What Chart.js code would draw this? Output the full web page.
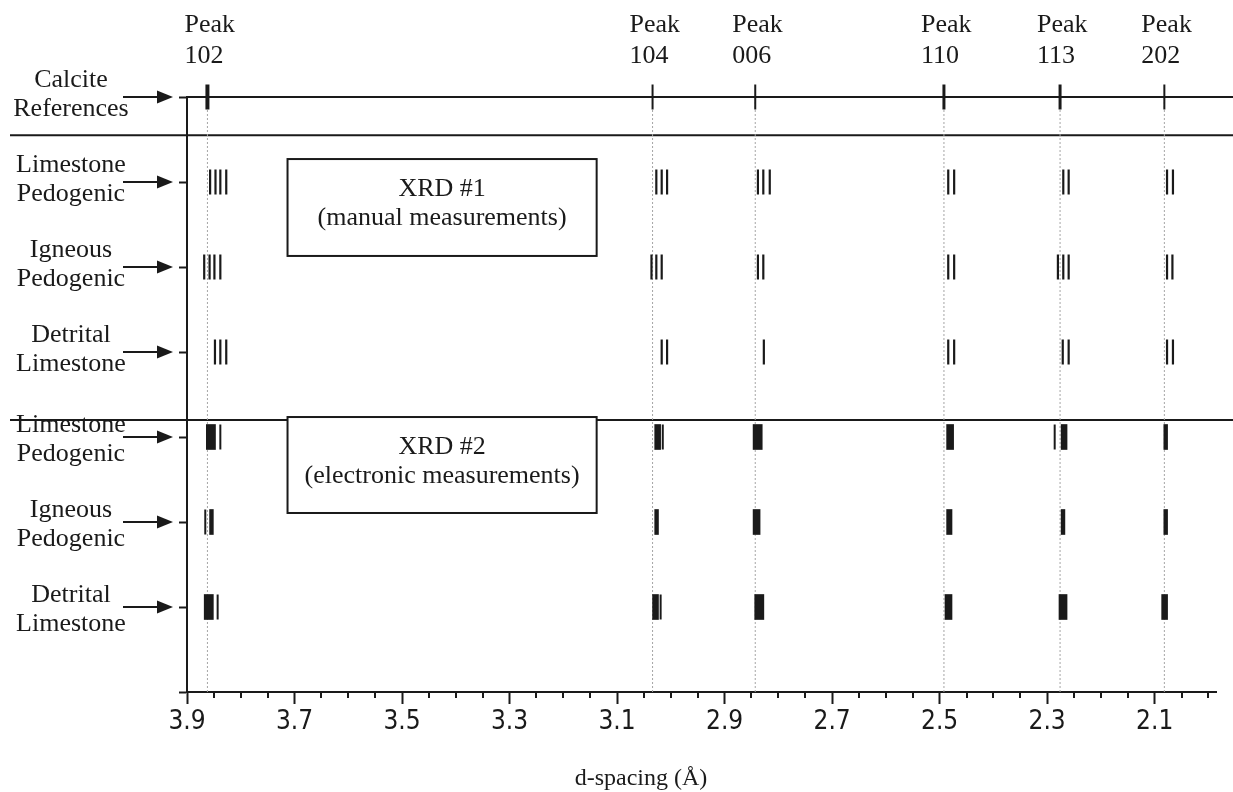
<!DOCTYPE html>
<html>
<head>
<meta charset="utf-8">
<script src="https://cdn.jsdelivr.net/npm/chart.js@4.4.1/dist/chart.umd.min.js"></script>
<style>
  html, body { margin: 0; padding: 0; background: #fff; }
  #wrap { width: 1233px; height: 792px; }
</style>
</head>
<body>
<div id="wrap"><canvas id="myChart" width="1233" height="792"></canvas></div>
<script>
// calcite reference peaks, d-spacing in angstrom
let peakNames = ['102', '104', '006', '110', '113', '202'];
let calcite = [3.862, 3.034, 2.843, 2.492, 2.276, 2.082];

let rowLabels = [
    ['Calcite', 'References'],
    ['Limestone', 'Pedogenic'],
    ['Igneous', 'Pedogenic'],
    ['Detrital', 'Limestone'],
    ['Limestone', 'Pedogenic'],
    ['Igneous', 'Pedogenic'],
    ['Detrital', 'Limestone']
];

// XRD #1 (manual) - one value per measured line
let xrd1Limestone = [3.857, 3.847, 3.838, 3.827, 3.027, 3.017, 3.007, 2.838, 2.828, 2.816, 2.484, 2.473, 2.270, 2.260, 2.077, 2.066];
let xrd1Igneous = [3.868, 3.858, 3.849, 3.838, 3.036, 3.027, 3.017, 2.838, 2.828, 2.484, 2.473, 2.280, 2.270, 2.260, 2.077, 2.067];
let xrd1Detrital = [3.848, 3.838, 3.827, 3.017, 3.007, 2.827, 2.484, 2.473, 2.271, 2.260, 2.077, 2.066];

// XRD #2 (electronic) - bands [from, to] plus single lines
let xrd2LimestoneBands = [[3.864, 3.847], [3.030, 3.019], [2.847, 2.830], [2.487, 2.474], [2.274, 2.263], [2.083, 2.076]];
let xrd2LimestoneLines = [3.838, 3.015, 2.286];
let xrd2IgneousBands = [[3.858, 3.851], [3.030, 3.023], [2.847, 2.834], [2.487, 2.477], [2.274, 2.267], [2.083, 2.076]];
let xrd2IgneousLines = [3.866];
let xrd2DetritalBands = [[3.868, 3.851], [3.034, 3.023], [2.844, 2.827], [2.490, 2.477], [2.278, 2.263], [2.087, 2.076]];
let xrd2DetritalLines = [3.843, 3.019];

let xTicks = [3.9, 3.7, 3.5, 3.3, 3.1, 2.9, 2.7, 2.5, 2.3, 2.1];

const ink = '#1a1a1a';
const serif = "'Liberation Serif', 'Times New Roman', serif";
const narrow = "'Liberation Sans Narrow', 'DejaVu Sans Condensed', 'Arial Narrow', sans-serif";

function lineMarks(values, row, width) {
    return {
        type: 'scatter',
        data: values.map(v => ({x: v, y: row})),
        pointStyle: 'line',
        pointRotation: 90,
        pointRadius: 12.5,
        pointHoverRadius: 12.5,
        pointBorderWidth: width,
        pointBorderColor: ink,
        pointBackgroundColor: ink,
        clip: false,
        order: 1
    };
}

let bands = [];
[[xrd2LimestoneBands, 3], [xrd2IgneousBands, 2], [xrd2DetritalBands, 1]].forEach(([list, row]) => {
    list.forEach(r => bands.push({x: r, y: row}));
});

// dotted guide lines under each calcite peak
let guides = calcite.map(d => ({
    type: 'line',
    data: [{x: d, y: 0}, {x: d, y: 7}],
    borderColor: '#a5a5a5',
    borderWidth: 1,
    borderDash: [2, 2],
    pointRadius: 0,
    clip: false,
    order: 5
}));

let refMarks = lineMarks(calcite, 7, [4, 2, 2, 3, 3, 2]);

let decorations = {
    id: 'decorations',
    beforeDraw(chart) {
        const ctx = chart.ctx;
        ctx.save();
        ctx.fillStyle = '#fff';
        ctx.fillRect(0, 0, chart.width, chart.height);
        ctx.restore();
    },
    beforeDatasetsDraw(chart) {
        const {ctx, chartArea: a, scales: {x, y}} = chart;
        ctx.save();
        ctx.strokeStyle = ink;
        ctx.lineWidth = 2;
        let hline = (py, x0) => {
            ctx.beginPath();
            ctx.moveTo(x0, py);
            ctx.lineTo(chart.width, py);
            ctx.stroke();
        };
        hline(y.getPixelForValue(7), a.left);
        hline(y.getPixelForValue(6.55), 10);
        hline(y.getPixelForValue(3.2), 10);

        // minor ticks every 0.05
        for (let k = 40; k <= 78; k++) {
            let v = k * 0.05;
            if (xTicks.some(t => Math.abs(t - v) < 1e-6)) continue;
            let px = Math.round(x.getPixelForValue(v));
            ctx.beginPath();
            ctx.moveTo(px, a.bottom);
            ctx.lineTo(px, a.bottom + 6);
            ctx.stroke();
        }
        ctx.restore();
    },
    afterDraw(chart) {
        const {ctx, chartArea: a, scales: {x, y}} = chart;
        ctx.save();
        ctx.fillStyle = ink;
        ctx.strokeStyle = ink;
        ctx.font = '26px ' + serif;

        // peak names
        ctx.textAlign = 'left';
        ctx.textBaseline = 'alphabetic';
        calcite.forEach((d, i) => {
            let px = x.getPixelForValue(d) - 23;
            ctx.fillText('Peak', px, a.top - 65);
            ctx.fillText(peakNames[i], px, a.top - 34);
        });

        // row labels with arrows
        rowLabels.forEach((lines, i) => {
            let py = y.getPixelForValue(7 - i);
            let shift = i >= 4 ? 5 : 0;
            ctx.textAlign = 'center';
            ctx.fillText(lines[0], 71, py - 10 + shift);
            ctx.fillText(lines[1], 71, py + 19 + shift);
            ctx.lineWidth = 2;
            ctx.beginPath();
            ctx.moveTo(123, py);
            ctx.lineTo(160, py);
            ctx.stroke();
            ctx.beginPath();
            ctx.moveTo(173, py);
            ctx.lineTo(157, py - 6.5);
            ctx.lineTo(157, py + 6.5);
            ctx.closePath();
            ctx.fill();
        });

        // method boxes
        let box = (top, bottom, l1, l2) => {
            let x0 = x.getPixelForValue(3.713), x1 = x.getPixelForValue(3.138);
            let y0 = y.getPixelForValue(top), y1 = y.getPixelForValue(bottom);
            ctx.lineWidth = 2;
            ctx.fillStyle = '#fff';
            ctx.fillRect(x0, y0, x1 - x0, y1 - y0);
            ctx.strokeRect(x0, y0, x1 - x0, y1 - y0);
            ctx.fillStyle = ink;
            ctx.textAlign = 'center';
            let cx = (x0 + x1) / 2;
            ctx.fillText(l1, cx, y0 + 37);
            ctx.fillText(l2, cx, y0 + 66);
        };
        box(6.27, 5.13, 'XRD #1', '(manual measurements)');
        box(3.235, 2.106, 'XRD #2', '(electronic measurements)');

        // axis title
        ctx.font = '24px ' + serif;
        ctx.textAlign = 'center';
        ctx.fillText('d-spacing (\u00C5)', 641, 785);
        ctx.restore();
    }
};

let context = document.getElementById('myChart').getContext('2d');
let chart = new Chart(context, {
    type: 'scatter',
    data: {
        datasets: [
            refMarks,
            lineMarks(xrd1Limestone, 6, 2.2),
            lineMarks(xrd1Igneous, 5, 2.2),
            lineMarks(xrd1Detrital, 4, 2.2),
            lineMarks(xrd2LimestoneLines, 3, 2),
            lineMarks(xrd2IgneousLines, 2, 2),
            lineMarks(xrd2DetritalLines, 1, 2),
            {
                type: 'bar',
                indexAxis: 'y',
                data: bands,
                backgroundColor: ink,
                borderWidth: 0,
                barThickness: 25,
                clip: false,
                order: 1
            }
        ].concat(guides)
    },
    options: {
        responsive: false,
        animation: false,
        events: [],
        layout: { padding: { top: 97, left: 0, right: 0, bottom: 0 } },
        plugins: {
            legend: { display: false },
            tooltip: { enabled: false }
        },
        scales: {
            x: {
                type: 'linear',
                reverse: true,
                offset: false,
                min: 1.985,
                max: 3.9,
                afterBuildTicks: s => { s.ticks = xTicks.map(v => ({value: v})); },
                afterFit: s => { s.height = 100; },
                border: { color: ink, width: 2 },
                grid: { offset: false, drawOnChartArea: false, tickLength: 12, tickWidth: 2, tickColor: ink },
                ticks: {
                    autoSkip: false,
                    maxRotation: 0,
                    color: ink,
                    padding: 3,
                    font: { family: narrow, size: 26 },
                    callback: v => v.toFixed(1)
                }
            },
            y: {
                type: 'linear',
                offset: false,
                min: 0,
                max: 7,
                afterBuildTicks: s => { s.ticks = [0, 1, 2, 3, 4, 5, 6, 7].map(v => ({value: v})); },
                afterFit: s => { s.width = 187; },
                border: { color: ink, width: 2 },
                grid: { offset: false, drawOnChartArea: false, tickLength: 8, tickWidth: 2, tickColor: ink },
                ticks: { display: false }
            }
        }
    },
    plugins: [decorations]
});
</script>
</body>
</html>
